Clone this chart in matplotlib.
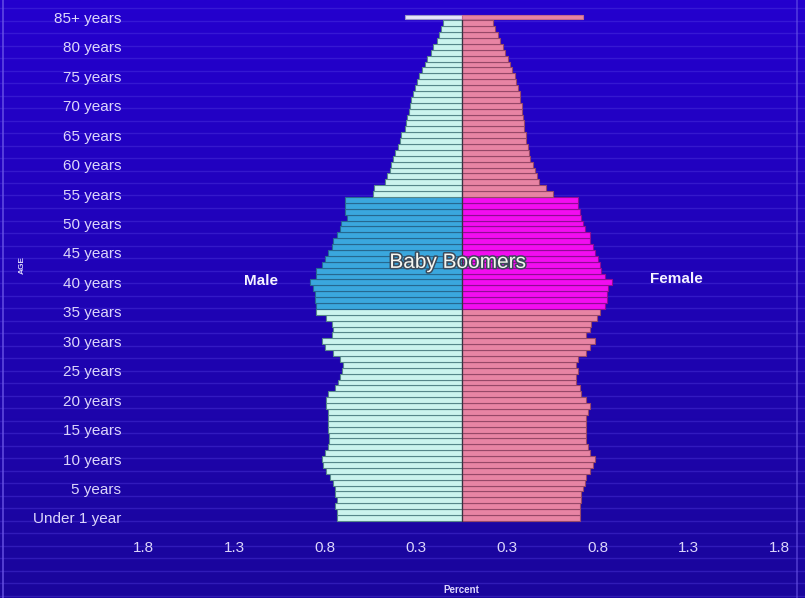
import numpy as np
import matplotlib
matplotlib.use('Agg')
import matplotlib.pyplot as plt
import matplotlib.patheffects as pe

# Single years of age; the last entry (85) is the open "85+" group
ages = list(range(86))

male_pct = [
    0.687, 0.687, 0.696, 0.687, 0.696, 0.696, 0.705, 0.723, 0.742, 0.760,
    0.769, 0.751, 0.733, 0.727, 0.727, 0.733, 0.733, 0.733, 0.733, 0.742,
    0.742, 0.733, 0.696, 0.678, 0.669, 0.659, 0.650, 0.669, 0.705, 0.751,
    0.769, 0.714, 0.707, 0.714, 0.742, 0.797, 0.797, 0.806, 0.806, 0.816,
    0.833, 0.797, 0.797, 0.769, 0.751, 0.734, 0.714, 0.707, 0.685, 0.669,
    0.660, 0.632, 0.641, 0.641, 0.641, 0.487, 0.480, 0.420, 0.412, 0.394,
    0.385, 0.377, 0.363, 0.350, 0.339, 0.333, 0.310, 0.306, 0.297, 0.290,
    0.284, 0.275, 0.268, 0.257, 0.245, 0.235, 0.218, 0.200, 0.187, 0.170,
    0.158, 0.137, 0.125, 0.110, 0.103, 0.310,
]

female_pct = [
    0.650, 0.650, 0.650, 0.659, 0.659, 0.669, 0.678, 0.687, 0.705, 0.723,
    0.732, 0.705, 0.696, 0.687, 0.687, 0.687, 0.687, 0.687, 0.696, 0.705,
    0.687, 0.659, 0.650, 0.632, 0.632, 0.641, 0.632, 0.641, 0.687, 0.705,
    0.732, 0.687, 0.705, 0.714, 0.742, 0.760, 0.787, 0.797, 0.797, 0.806,
    0.826, 0.787, 0.769, 0.760, 0.751, 0.732, 0.723, 0.705, 0.705, 0.677,
    0.668, 0.659, 0.650, 0.641, 0.641, 0.503, 0.467, 0.426, 0.415, 0.403,
    0.393, 0.379, 0.370, 0.363, 0.357, 0.357, 0.344, 0.342, 0.338, 0.335,
    0.330, 0.324, 0.320, 0.310, 0.302, 0.293, 0.280, 0.265, 0.256, 0.238,
    0.228, 0.210, 0.200, 0.183, 0.174, 0.668,
]

boomer_first, boomer_last = 36, 54

age_ticks = list(range(0, 90, 5))
age_tick_labels = ['Under 1 year'] + [f'{a} years' for a in range(5, 85, 5)] + ['85+ years']

pct_ticks = [-1.75, -1.25, -0.75, -0.25, 0.25, 0.75, 1.25, 1.75]
pct_tick_labels = ['1.8', '1.3', '0.8', '0.3', '0.3', '0.8', '1.3', '1.8']

FONT = ['Liberation Sans', 'DejaVu Sans']
TEXT_COL = '#dcd6fb'

fig = plt.figure(figsize=(8.05, 5.98), dpi=100)

# blue slide background with faint horizontal banding
bg = fig.add_axes([0, 0, 1, 1], zorder=0)
top = np.array([36, 0, 206]) / 255
bottom = np.array([26, 6, 156]) / 255
t = np.linspace(0, 1, 300)[:, None]
grad = (top * (1 - t) + bottom * t)[:, None, :]
bg.imshow(grad, extent=[0, 1, 0, 1], aspect='auto', interpolation='bilinear')
for ypx in np.arange(8, 598, 12.5):
    bg.axhline(1 - ypx / 598, color='#5b45e6', lw=1.0, alpha=0.35)
bg.axvline(3 / 805, color='#6e5ae8', lw=1.2, alpha=0.8)
bg.axvline(797 / 805, color='#6e5ae8', lw=1.2, alpha=0.6)
bg.set_xlim(0, 1)
bg.set_ylim(0, 1)
bg.axis('off')

ax = fig.add_axes([128 / 805, 1 - 533 / 598, 667 / 805, 533 / 598], zorder=1)
ax.set_facecolor('none')

male = np.array(male_pct)
female = np.array(female_pct)
ages_arr = np.array(ages)
boomer = (ages_arr >= boomer_first) & (ages_arr <= boomer_last)
heights = np.where(ages_arr == 85, 0.7, 1.0)

m_col = np.where(boomer, '#3aa7de', '#cbf4ee')
m_edge = np.where(boomer, '#266890', '#56878a')
f_col = np.where(boomer, '#f20df0', '#e884a4')
f_edge = np.where(boomer, '#900c94', '#974868')
m_col[-1] = '#e6e4fb'
m_edge[-1] = '#9a98c8'
f_edge[-1] = '#c26a8c'

ax.barh(ages_arr, -male, height=heights, color=m_col, edgecolor=m_edge, linewidth=0.8)
ax.barh(ages_arr, female, height=heights, color=f_col, edgecolor=f_edge, linewidth=0.8)
ax.plot([0, 0], [-0.5, 84.5], color='#3a3040', lw=0.9)

ax.set_xlim(-1.833, 1.833)
ax.set_ylim(-2.55, 87.95)

ax.set_yticks(age_ticks)
ax.set_yticklabels(age_tick_labels, family=FONT, fontsize=11, color=TEXT_COL)
ax.set_xticks(pct_ticks)
ax.set_xticklabels(pct_tick_labels, family=FONT, fontsize=11, color=TEXT_COL)
ax.tick_params(length=0, axis='y', pad=5)
ax.tick_params(length=0, axis='x', pad=6)
for s in ax.spines.values():
    s.set_visible(False)

ax.text(-1.10, 40.3, 'Male', family=FONT, fontsize=11, fontweight='bold',
        color='#f4f2ff', ha='center', va='center')
ax.text(1.18, 40.5, 'Female', family=FONT, fontsize=11, fontweight='bold',
        color='#f4f2ff', ha='center', va='center')
ax.text(-0.02, 43.4, 'Baby Boomers', family=FONT, fontsize=15,
        color='#f6f6f0', ha='center', va='center',
        path_effects=[pe.withStroke(linewidth=2.2, foreground='#3c4a5a')])

fig.text(461 / 805, 1 - 590 / 598, 'Percent', family=FONT, fontsize=7,
         fontweight='bold', color=TEXT_COL, ha='center', va='center')
fig.text(22 / 805, 1 - 265 / 598, 'AGE', family=FONT, fontsize=6,
         fontweight='bold', color=TEXT_COL, ha='center', va='center', rotation=90)

fig.savefig('out.png', dpi=100)
